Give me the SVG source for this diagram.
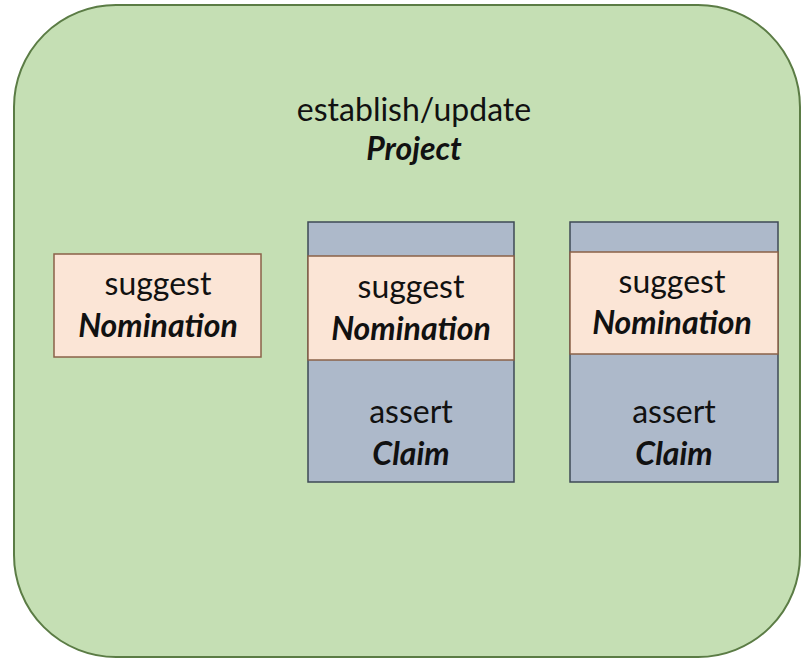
<svg xmlns="http://www.w3.org/2000/svg" width="802" height="660" viewBox="0 0 802 660">
<style>
.bg{fill:#c5dfb4;stroke:#5b7c45;stroke-width:2}
.pk{fill:#fbe5d6;stroke:#8a6248;stroke-width:1.5}
.bl{fill:#adb9ca;stroke:#3e4a55;stroke-width:1.5}
text{font-family:Lato,"Open Sans",sans-serif;font-size:32px;fill:#111;text-anchor:middle}
.b{font-weight:bold;font-style:italic}
</style>
<g id="project">
<rect class="bg" x="14" y="5" width="786" height="652" rx="102" ry="102"/>
<text x="414" y="121">establish/update</text>
<text class="b" x="414" y="160">Project</text>
</g>
<g id="nomination1">
<rect class="pk" x="54" y="254" width="207" height="103"/>
<text x="158" y="295">suggest</text>
<text class="b" x="158" y="337">Nomination</text>
</g>
<g id="stack2">
<rect class="bl" x="308" y="222" width="206" height="260"/>
<rect class="pk" x="308" y="256" width="206" height="104"/>
<text x="411" y="298">suggest</text>
<text class="b" x="411" y="340">Nomination</text>
<text x="411" y="423">assert</text>
<text class="b" x="411" y="465">Claim</text>
</g>
<g id="stack3">
<rect class="bl" x="570" y="222" width="208" height="260"/>
<rect class="pk" x="570" y="252" width="208" height="102"/>
<text x="672" y="293">suggest</text>
<text class="b" x="672" y="334">Nomination</text>
<text x="674" y="423">assert</text>
<text class="b" x="674" y="465">Claim</text>
</g>
<g id="connectors"></g>
</svg>
